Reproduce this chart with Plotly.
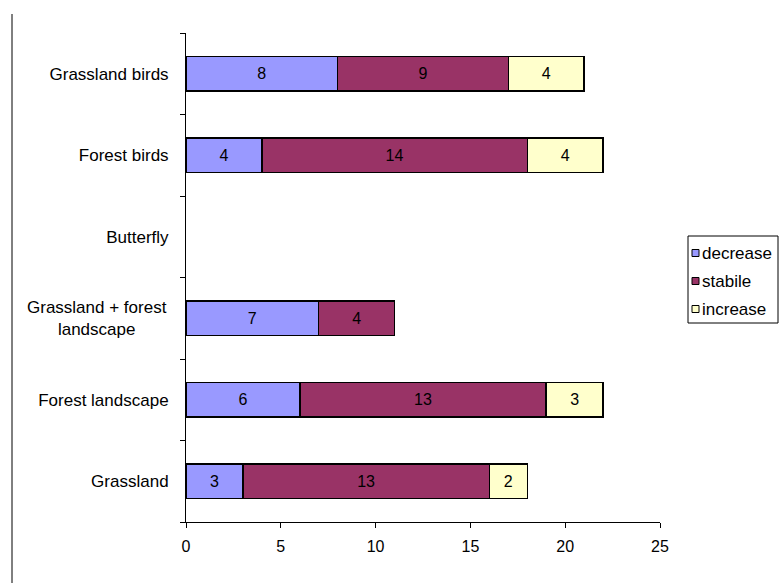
import plotly.graph_objects as go

categories = ["Grassland", "Forest landscape", "Grassland + forest<br>landscape",
              "Butterfly", "Forest birds", "Grassland birds"]
decrease = [3, 6, 7, None, 4, 8]
stabile = [13, 13, 4, None, 14, 9]
increase = [2, 3, None, None, 4, 4]

series = [("decrease", decrease, "#9999FF"),
          ("stabile", stabile, "#993366"),
          ("increase", increase, "#FFFFCC")]

# plot area in pixels
L, R, T, B = 186, 660, 33, 522
W, H = R - L, B - T


def px(x):
    return (x - L) / W


def py(y):
    return (B - y) / H


fig = go.Figure()
for name, vals, col in series:
    fig.add_trace(go.Bar(
        y=categories, x=vals, name=name, orientation="h",
        marker=dict(color=col, line=dict(color="black", width=1.5)),
        text=[("" if v is None else str(v)) for v in vals],
        textposition="inside", insidetextanchor="middle",
        textfont=dict(color="black", size=16, family="Liberation Sans, Arial"),
        hoverinfo="skip", showlegend=False,
    ))

# multi-line labels are drawn as centred annotations
ticktext = [("" if "<br>" in c else c) for c in categories]

fig.update_layout(
    barmode="stack", bargap=0.58,
    width=781, height=583,
    margin=dict(l=L, r=781 - R, t=T, b=583 - B, autoexpand=False),
    paper_bgcolor="white", plot_bgcolor="white",
    font=dict(family="Liberation Sans, Arial", size=16, color="black"),
    showlegend=False,
    xaxis=dict(range=[0, 25], tickvals=[0, 5, 10, 15, 20, 25],
               showgrid=False, zeroline=False, showline=True,
               linecolor="black", linewidth=1, ticks="outside",
               ticklen=5, tickcolor="black", tickfont=dict(size=16),
               ticklabelstandoff=5),
    yaxis=dict(range=[-0.5, 5.5], showgrid=False, zeroline=False,
               showline=True, linecolor="black", linewidth=1,
               ticks="outside", tickson="boundaries", ticklen=5,
               tickcolor="black", tickfont=dict(size=17),
               tickvals=categories, ticktext=ticktext,
               ticklabelstandoff=13),
)

for c in categories:
    if "<br>" in c:
        fig.add_annotation(xref="paper", yref="y", x=px(169), y=c,
                           xanchor="right", yanchor="middle", align="center",
                           showarrow=False, text=c,
                           font=dict(size=17, color="black"))

# legend box
fig.add_shape(type="rect", xref="paper", yref="paper",
              x0=px(688), x1=px(778), y0=py(236), y1=py(323),
              line=dict(color="black", width=1), fillcolor="white")
item_y = [253, 281, 309]
for (name, vals, col), yy in zip(series, item_y):
    fig.add_shape(type="rect", xref="paper", yref="paper",
                  x0=px(692), x1=px(699), y0=py(yy - 3.5), y1=py(yy + 3.5),
                  line=dict(color="black", width=1), fillcolor=col)
    fig.add_annotation(xref="paper", yref="paper", x=px(700), y=py(yy),
                       xanchor="left", yanchor="middle", showarrow=False,
                       text=name, font=dict(size=17, color="black"))

fig.add_shape(type="line", xref="paper", yref="paper",
              x0=px(12), x1=px(12), y0=py(583), y1=py(14),
              line=dict(color="black", width=1))

fig.write_html("out.html")
